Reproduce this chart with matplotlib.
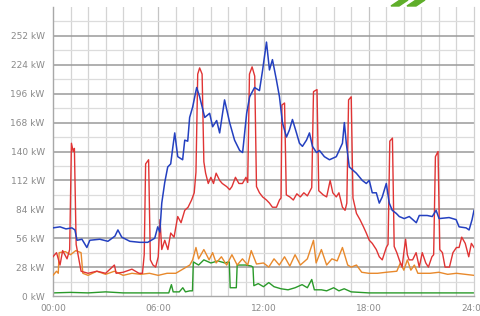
import matplotlib
matplotlib.use("Agg")
import matplotlib.pyplot as plt
from matplotlib.patches import Polygon

# ---- data (hours, kW) ----
blue_t = [0.00, 0.40, 0.74, 1.08, 1.25, 1.37, 1.65, 1.93, 2.10, 2.67, 3.13, 3.53, 3.70, 3.92, 4.38,
          4.95, 5.40, 5.80, 5.97, 6.09, 6.20, 6.37, 6.54, 6.71, 6.83, 6.94, 7.11, 7.39, 7.51, 7.68,
          7.79, 7.96, 8.19, 8.36, 8.65, 8.93, 9.10, 9.33, 9.50, 9.78, 10.07, 10.35, 10.64, 10.81,
          11.04, 11.21, 11.49, 11.77, 11.95, 12.17, 12.34, 12.51, 12.74, 12.91, 13.08, 13.31, 13.48,
          13.65, 13.88, 14.05, 14.22, 14.45, 14.62, 14.79, 15.02, 15.19, 15.47, 15.76, 16.15, 16.50,
          16.61, 16.72, 16.89, 17.29, 17.63, 17.86, 18.03, 18.20, 18.43, 18.60, 18.77, 19.00, 19.17,
          19.34, 19.57, 19.74, 20.02, 20.31, 20.71, 20.88, 21.33, 21.62, 21.84, 22.01, 22.58, 22.98,
          23.15, 23.55, 23.72, 23.89, 24.00]
blue_v = [66, 67, 65, 66, 64, 54, 55, 47, 54, 55, 53, 58, 64, 57, 53,
          52, 52, 56, 67, 62, 90, 110, 125, 128, 144, 158, 135, 132, 151, 150,
          173, 183, 202, 193, 173, 177, 164, 170, 158, 190, 168, 151, 141, 139,
          177, 193, 202, 199, 219, 246, 219, 229, 209, 193, 168, 154, 161,
          171, 158, 148, 145, 151, 158, 145, 139, 141, 135, 132, 135, 148,
          168, 148, 125, 119, 112, 109, 112, 100, 100, 90, 96, 109, 90,
          83, 80, 77, 75, 77, 71, 78, 78, 77, 83, 75, 76, 74,
          67, 66, 64, 74, 83]

red_t = [0.00, 0.20, 0.40, 0.55, 0.80, 0.95, 1.05, 1.15, 1.22, 1.32, 1.45, 1.60, 2.00, 2.50, 3.00,
         3.50, 3.60, 4.00, 4.50, 4.90, 5.10, 5.20, 5.28, 5.45, 5.55, 5.70, 5.85, 6.00, 6.10, 6.20,
         6.37, 6.55, 6.71, 6.90, 7.11, 7.30, 7.51, 7.70, 7.90, 8.05, 8.15, 8.25, 8.36, 8.50, 8.60,
         8.70, 8.85, 9.00, 9.15, 9.30, 9.50, 9.65, 9.90, 10.07, 10.20, 10.40, 10.60, 10.80, 11.00,
         11.10, 11.20, 11.35, 11.50, 11.60, 11.77, 11.95, 12.17, 12.34, 12.51, 12.74, 12.91, 13.00,
         13.05, 13.20, 13.30, 13.50, 13.70, 13.90, 14.10, 14.30, 14.50, 14.75, 14.85, 15.05, 15.15,
         15.40, 15.60, 15.80, 15.95, 16.15, 16.30, 16.50, 16.65, 16.75, 16.85, 17.00, 17.10, 17.30,
         17.50, 17.70, 17.86, 18.03, 18.20, 18.43, 18.60, 18.77, 19.00, 19.10, 19.20, 19.35, 19.45,
         19.60, 19.74, 19.90, 20.00, 20.10, 20.20, 20.30, 20.50, 20.70, 20.88, 21.05, 21.25, 21.40,
         21.60, 21.70, 21.80, 21.95, 22.05, 22.20, 22.35, 22.60, 22.80, 23.00, 23.15, 23.30, 23.50,
         23.70, 23.85, 24.00]
red_v = [38, 42, 30, 44, 36, 45, 148, 140, 143, 50, 38, 24, 22, 24, 22,
         30, 22, 23, 26, 22, 22, 40, 128, 132, 35, 30, 28, 38, 74, 45,
         54, 45, 61, 57, 77, 71, 83, 86, 93, 100, 120, 215, 221, 215, 130,
         119, 109, 115, 109, 119, 112, 109, 106, 103, 106, 115, 109, 109, 115,
         110, 215, 222, 213, 106, 100, 96, 93, 90, 86, 86, 93, 95,
         185, 187, 98, 96, 93, 99, 96, 100, 97, 105, 198, 200, 102,
         98, 96, 112, 100, 96, 100, 86, 83, 90, 190, 193, 95, 80,
         74, 67, 61, 54, 51, 45, 38, 35, 47, 50, 150, 153, 48,
         42, 35, 28, 42, 55, 40, 35, 35, 42, 28, 42, 32, 28,
         38, 40, 135, 140, 45, 42, 28, 28, 42, 47, 47, 57, 51,
         38, 51, 47]

orange_t = [0.00, 0.20, 0.30, 0.35, 0.70, 1.00, 1.30, 1.60, 1.70, 2.00, 2.50, 3.00, 3.50, 4.00, 4.50,
            5.00, 5.50, 6.00, 6.50, 7.00, 7.30, 7.80, 7.96, 8.15, 8.30, 8.60, 8.90, 9.10, 9.30, 9.60,
            9.90, 10.20, 10.50, 10.80, 11.10, 11.30, 11.60, 12.00, 12.30, 12.60, 12.90, 13.20, 13.50,
            13.80, 14.10, 14.50, 14.85, 15.00, 15.30, 15.60, 15.90, 16.20, 16.50, 16.80, 17.00, 17.30,
            17.60, 18.00, 18.50, 19.00, 19.60, 19.80, 20.00, 20.20, 20.40, 20.60, 20.80, 21.50, 22.00,
            22.50, 23.00, 23.50, 24.00]
orange_v = [20, 24, 22, 42, 43, 40, 44, 42, 22, 20, 24, 21, 24, 20, 22,
            21, 22, 20, 22, 22, 25, 30, 35, 47, 36, 45, 35, 42, 32, 38,
            30, 40, 30, 36, 30, 44, 31, 32, 28, 36, 30, 38, 29,
            40, 30, 36, 54, 32, 45, 30, 36, 34, 47, 30, 28, 30,
            23, 22, 22, 23, 24, 32, 25, 35, 25, 30, 22, 22, 23,
            21, 22, 21, 20]

green_t = [0.0, 1.0, 2.0, 3.0, 4.0, 5.0, 6.0, 6.6, 6.75, 6.85, 7.2, 7.4, 7.55, 7.8, 7.95, 8.0,
           8.3, 8.6, 9.0, 9.4, 9.8, 10.0, 10.05, 10.1, 10.45, 10.5, 11.0, 11.3, 11.4, 11.45,
           11.7, 12.0, 12.3, 12.6, 13.0, 13.4, 13.8, 14.2, 14.5, 14.75, 14.9, 15.3, 15.6, 16.0,
           16.3, 16.6, 17.0, 18.0, 20.0, 22.0, 24.0]
green_v = [3, 3.5, 3, 4, 3, 3, 3, 3, 11, 4, 4, 8, 4, 5, 5, 33,
           30, 35, 32, 34, 32, 33, 33, 8, 8, 30, 30, 29, 28, 10,
           12, 9, 13, 9, 7, 6, 8, 11, 8, 16, 6, 6, 5, 8,
           5, 7, 4, 3, 3, 3, 3]

y_ticks = [0, 28, 56, 84, 112, 140, 168, 196, 224, 252]
x_ticks = [0, 6, 12, 18, 24]
x_labels = ["00:00", "06:00", "12:00", "18:00", "24:00"]

# ---- figure ----
fig = plt.figure(figsize=(4.8, 3.16), dpi=100)
ax = fig.add_axes([53/480, 20/316, 421/480, 289/316])

ax.set_xlim(0, 24)
ax.set_ylim(0, 280)

# grid
for h in range(1, 24):
    ax.axvline(h, color="#d4d4d4" if h % 6 else "#c4c4c4", lw=0.9, zorder=0)
for v in range(14, 280, 28):
    ax.axhline(v, color="#dcdcdc", lw=0.9, zorder=0)
for v in y_ticks[1:]:
    ax.axhline(v, color="#9a9a9a", lw=1.1, zorder=0)

ax.plot(green_t, green_v, color="#2a9a2a", lw=1.0, zorder=2)
ax.plot(orange_t, orange_v, color="#e8892c", lw=1.0, zorder=3)
ax.plot(red_t, red_v, color="#e03434", lw=1.0, zorder=4)
ax.plot(blue_t, blue_v, color="#2440c0", lw=1.1, zorder=5)

ax.set_yticks(y_ticks)
ax.set_yticklabels([f"{v} kW" for v in y_ticks])
ax.set_xticks(x_ticks)
ax.set_xticklabels(x_labels)
ax.tick_params(length=0, labelsize=6.5, labelcolor="#8a8a8a", pad=6)

ax.spines["top"].set_visible(False)
for s in ["left", "bottom"]:
    ax.spines[s].set_color("#a8a8a8")
    ax.spines[s].set_linewidth(1.0)
ax.spines["right"].set_color("#d0d0d0")
ax.spines["right"].set_linewidth(0.9)

# green logo fragment at top
def px(x, y):
    return (x / 480, 1 - y / 316)

for pts in ([(391, 6), (399, 6), (408, 0), (400, 0)],
            [(407, 6), (416, 6), (425, 0), (416, 0)]):
    fig.patches.append(Polygon([px(*p) for p in pts], closed=True,
                               transform=fig.transFigure, color="#5fae2a"))

fig.savefig("out.png", dpi=100)
